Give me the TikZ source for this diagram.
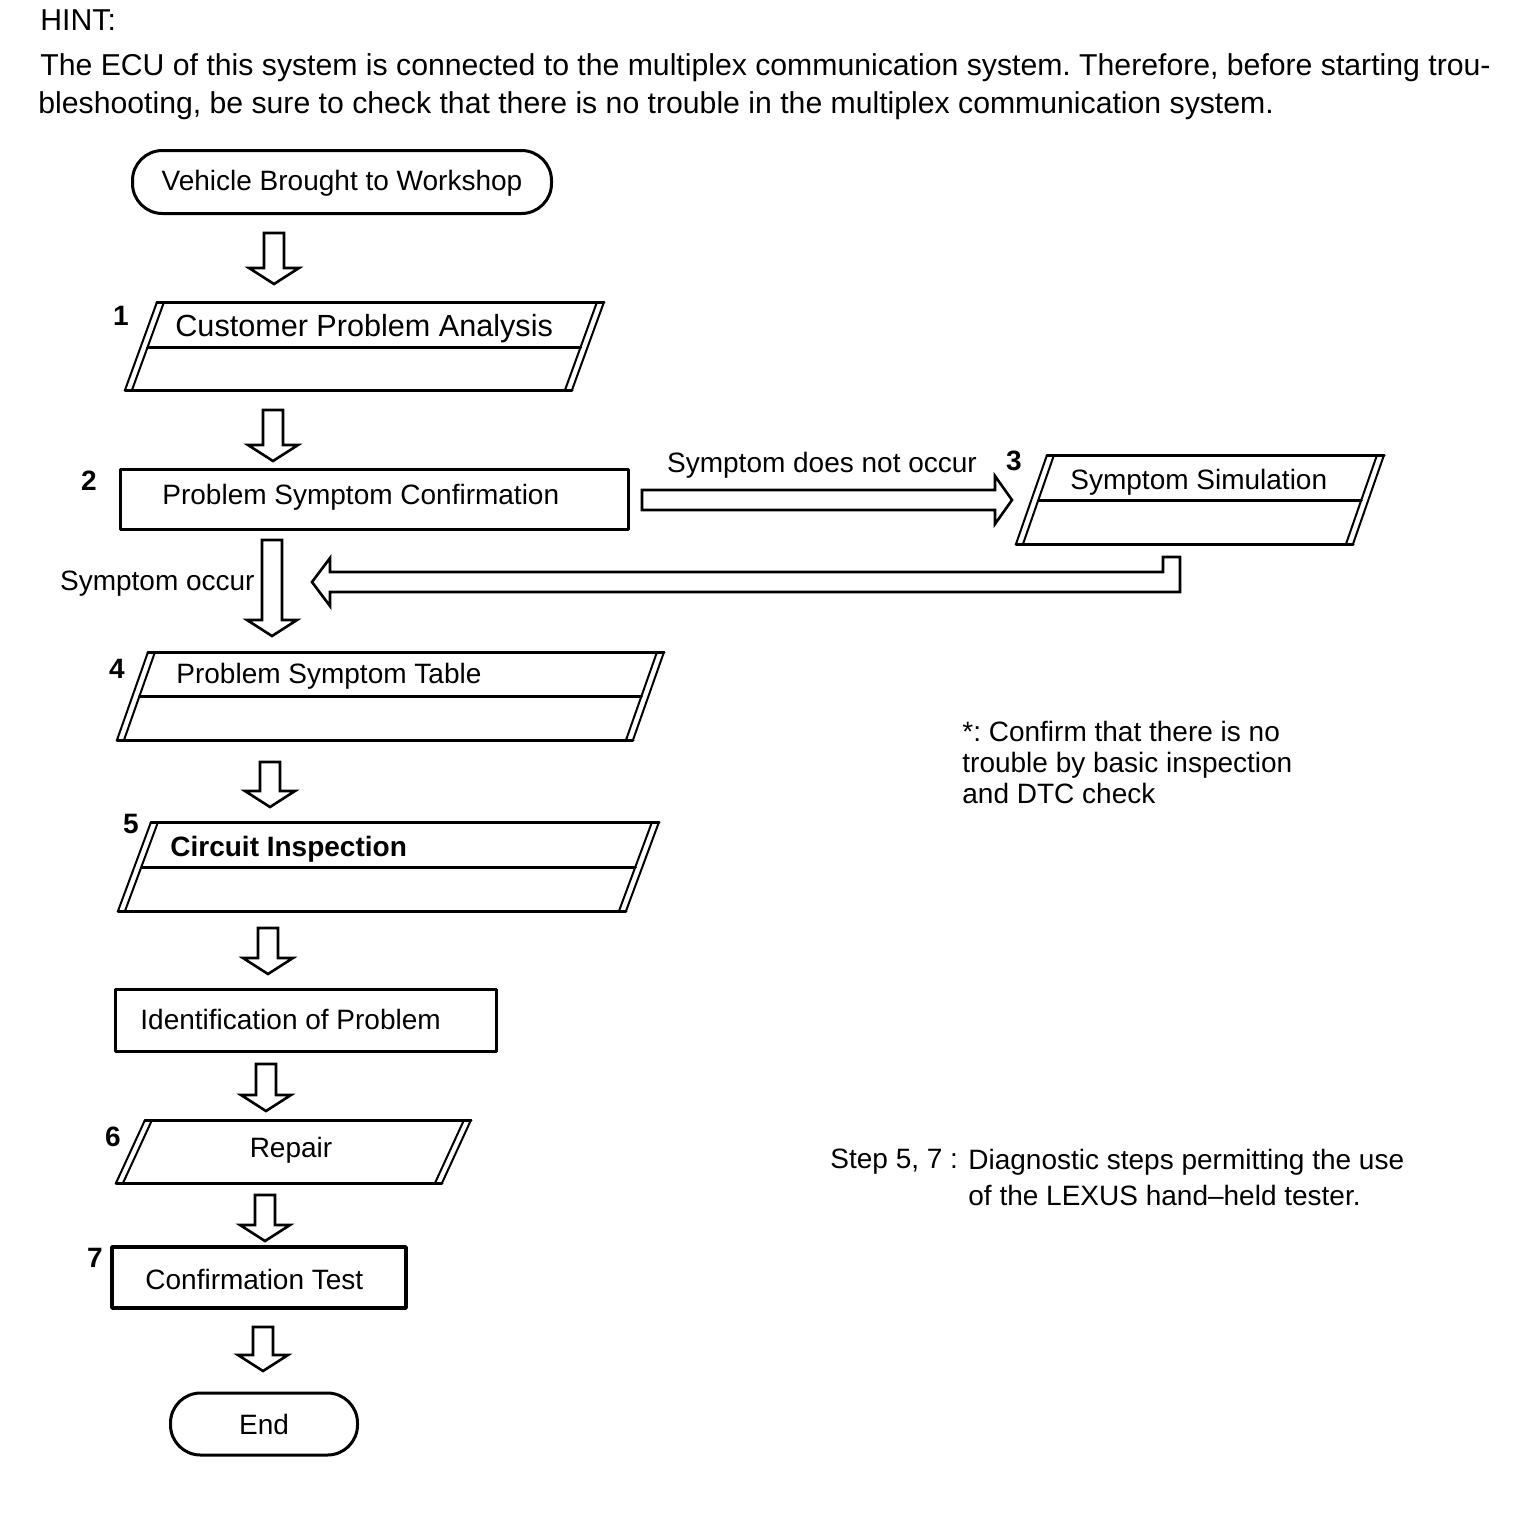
\documentclass[tikz,border=0pt]{standalone}
\usepackage{fontspec}
\setmainfont{Liberation Sans}
\usetikzlibrary{calc}
\frenchspacing
\tikzset{
  fat/.style={line width=1.3pt, line join=miter},
  edge/.style={line width=1.5pt},
  side/.style={line width=1pt},
  txt/.style={inner sep=0pt, font=\fontsize{14}{16}\selectfont},
  num/.style={inner sep=0pt, font=\fontsize{14}{16}\selectfont\bfseries},
  hint/.style={inner sep=0pt, anchor=base west, font=\fontsize{15.1}{18}\selectfont},
  term/.style={draw, edge, txt, rounded corners=15pt},
}
% hollow block arrows: #1 tail, #2 tip
\newcommand\fatdown[2]{%
  \draw[fat] (#2) -- ($(#2)+(-25,-16)$) -- ($(#2)+(-10,-16)$) -- ($(#1)+(-10,0)$)
    -- ($(#1)+(10,0)$) -- ($(#2)+(10,-16)$) -- ($(#2)+(25,-16)$) -- cycle;}
\newcommand\fatright[2]{%
  \draw[fat] (#2) -- ($(#2)+(-17,-24)$) -- ($(#2)+(-17,-10)$) -- ($(#1)+(0,-10)$)
    -- ($(#1)+(0,10)$) -- ($(#2)+(-17,10)$) -- ($(#2)+(-17,24)$) -- cycle;}
\begin{document}
\begin{tikzpicture}[x=0.5pt, y=-0.5pt, line join=round, line cap=round]
\useasboundingbox (0,0) rectangle (1520,1528);
% hint
\node[hint] (hint) at (40,30) {HINT:};
\node[hint] (hint1) at (40,75) {The ECU of this system is connected to the multiplex communication system. Therefore, before starting trou-};
\node[hint] (hint2) at (38,113) {bleshooting, be sure to check that there is no trouble in the multiplex communication system.};
% terminals
\node[term, minimum width=209.5pt, minimum height=31.5pt, text depth=2pt] (vbw) at (342,182) {Vehicle Brought to Workshop};
\node[term, minimum width=93.5pt, minimum height=31pt] (end) at (264,1424) {End};
% plain boxes
\draw[edge] (120,469) rectangle (628,529);
\draw[edge] (115,989) rectangle (496,1051);
\draw[edge, line width=1.8pt] (112,1247) rectangle (406,1308);
\node[txt, anchor=west] (psc) at (162,497) {Problem Symptom Confirmation};
\node[txt, anchor=west] (iop) at (140,1019) {Identification of Problem};
\node[txt, anchor=west] (ct) at (145,1279) {Confirmation Test};
% slanted boxes
\foreach \n/\l/\r/\t/\b/\s in {cpa/157/604/302/390/32, sim/1047/1384/455/544/31, pst/148/664/652/740/31, ci/151/659/822/911/33, rep/145/471/1120/1183/29}{
  \draw[edge] (\l,\t) -- (\r,\t) (\l-\s,\b) -- (\r-\s,\b);
  \draw[side] (\l,\t) -- (\l-\s,\b) (\l+7,\t) -- (\l+7-\s,\b)
    (\r,\t) -- (\r-\s,\b) (\r-7,\t) -- (\r-7-\s,\b);
}
\foreach \l/\r/\t/\b/\s/\m in {157/604/302/390/32/347, 1047/1384/455/544/31/500, 148/664/652/740/31/696, 151/659/822/911/33/867}
  \draw[edge] ({\l+7-\s*(\m-\t)/(\b-\t)},\m) -- ({\r-7-\s*(\m-\t)/(\b-\t)},\m);
\node[txt, anchor=west, font=\fontsize{15.3}{18}\selectfont] (cpa) at (175,329) {Customer Problem Analysis};
\node[txt, anchor=west] (sim) at (1070,482) {Symptom Simulation};
\node[txt, anchor=west] (pst) at (176,676) {Problem Symptom Table};
\node[txt, anchor=west, font=\fontsize{14}{16}\selectfont\bfseries] (ci) at (170,849) {Circuit Inspection};
\node[txt] (rep) at (291,1150) {Repair};
% step numbers
\foreach \k/\x/\y in {1/121/316, 2/89/481, 3/1014/461, 4/117/669, 5/131/824, 6/113/1137, 7/95/1258}
  \node[num] (n\k) at (\x,\y) {\k};
% arrows
\path
(274,233) coordinate (a1t) (274,284) coordinate (a1b)
(273,410) coordinate (a2t) (273,461) coordinate (a2b)
(272,540) coordinate (a3t) (272,636) coordinate (a3b)
(270,762) coordinate (a4t) (270,807) coordinate (a4b)
(268,928) coordinate (a5t) (268,974) coordinate (a5b)
(266,1064) coordinate (a6t) (266,1111) coordinate (a6b)
(265,1195) coordinate (a7t) (265,1241) coordinate (a7b)
(263,1327) coordinate (a8t) (263,1371) coordinate (a8b)
(642,500) coordinate (no-t) (1012,500) coordinate (no-b)
(1171,557) coordinate (ret-t) (312,582) coordinate (ret-b);
\foreach \k in {1,...,8}\fatdown{a\k t}{a\k b};
\fatright{no-t}{no-b}
\draw[fat] ($(ret-t)+(-8,0)$) -- ($(ret-t)+(9,0)$) |- ($(ret-b)+(18,10)$) -- ($(ret-b)+(18,24)$)
  -- (ret-b) -- ($(ret-b)+(18,-24)$) -- ($(ret-b)+(18,-10)$) -| cycle;
\node[txt] (dno) at (822,465) {Symptom does not occur};
\node[txt, anchor=east] (occ) at (255,584) {Symptom occur};
% notes
\node[txt, anchor=north west, align=left, font=\fontsize{14}{15.5}\selectfont] (star) at (962,721)
  {*: Confirm that there is no\\trouble by basic inspection\\and DTC check};
\node[txt, anchor=west] (step) at (830,1162) {Step 5, 7 :};
\node[txt, anchor=north west, align=left, font=\fontsize{14}{18}\selectfont] (diag) at (968,1149)
  {Diagnostic steps permitting the use\\of the LEXUS hand--held tester.};
\end{tikzpicture}
\end{document}
